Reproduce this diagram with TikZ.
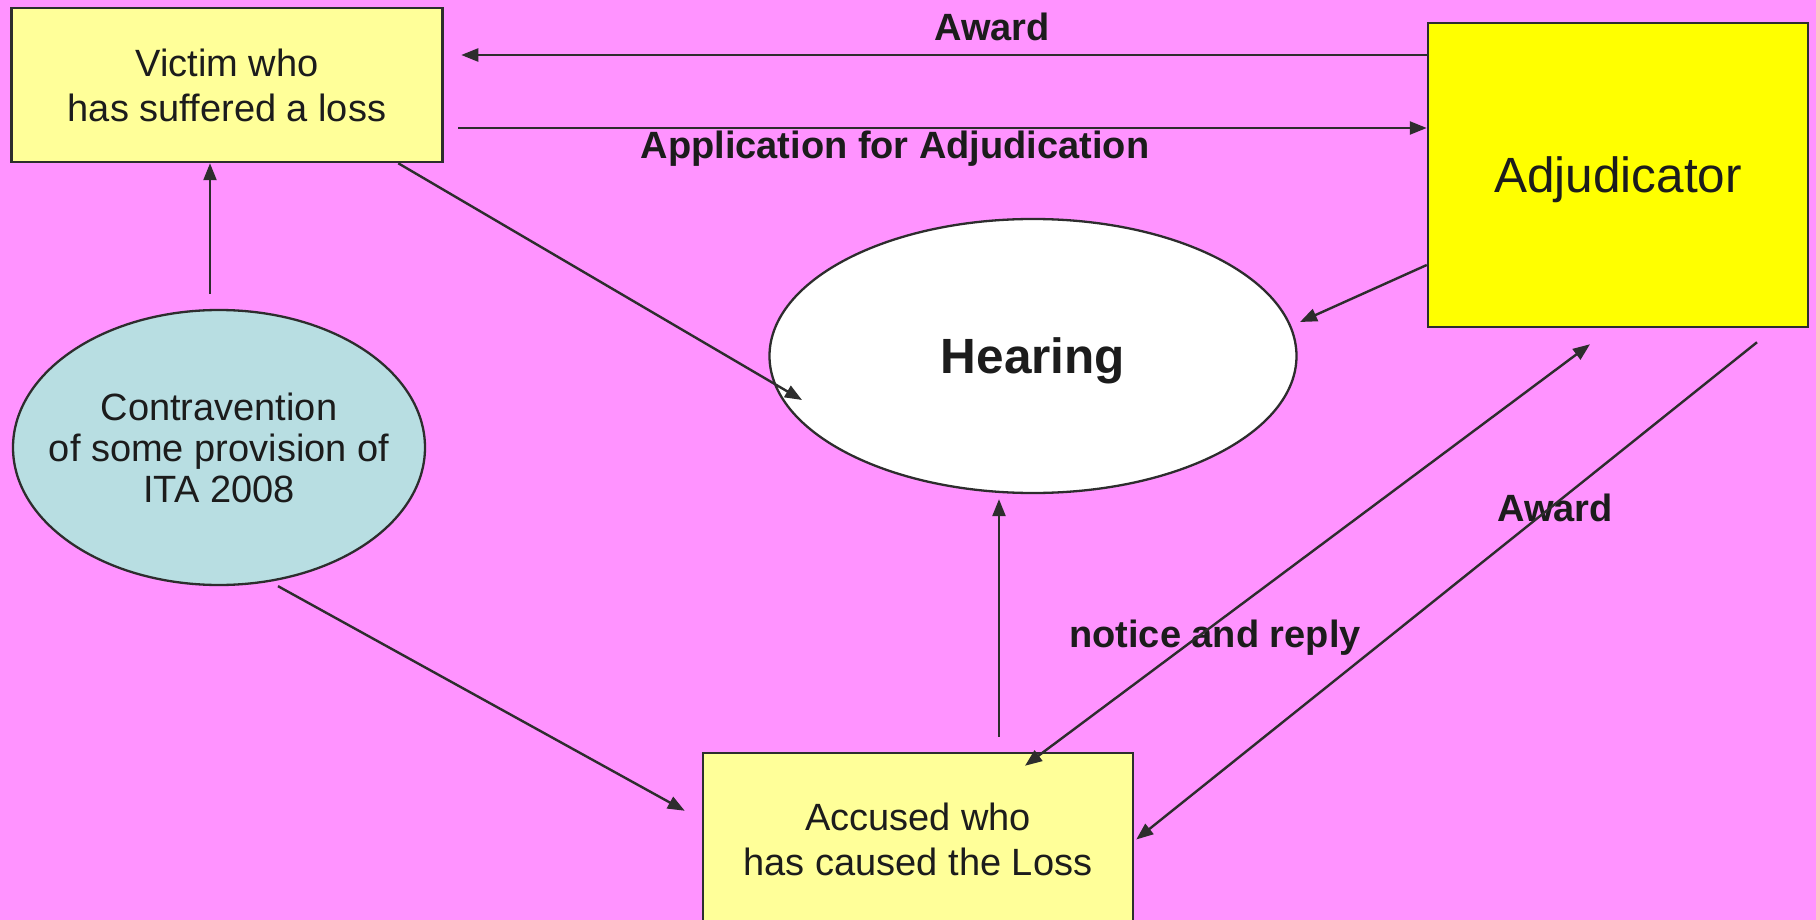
\documentclass[tikz,border=0pt]{standalone}
\usepackage{fontspec}
\setmainfont{Liberation Sans}
\usetikzlibrary{arrows.meta,shapes.geometric,calc}
\definecolor{bgpink}{RGB}{255,147,255}
\definecolor{paleyellow}{RGB}{255,255,153}
\definecolor{adjyellow}{RGB}{255,255,0}
\definecolor{contrablue}{RGB}{184,222,226}
\definecolor{edgegray}{RGB}{45,45,45}
\definecolor{inkcol}{RGB}{28,28,28}
\begin{document}
\begin{tikzpicture}[x=1pt,y=-1pt,
  boxnode/.style={draw=edgegray, line width=2.5pt, inner sep=0pt, align=center, text=inkcol},
  ellnode/.style={ellipse, draw=edgegray, line width=2.3pt, inner sep=0pt, align=center, text=inkcol},
  bodyfont/.style={font=\fontsize{38}{45}\selectfont},
  lbl/.style={font=\bfseries\fontsize{38}{45}\selectfont, text=inkcol, inner sep=0pt, text height=27pt, text depth=0pt},
  arr/.style={draw=edgegray, line width=2.4pt, -{Triangle[length=17pt,width=13pt]}},
  dblarr/.style={draw=edgegray, line width=2.4pt, {Triangle[length=17pt,width=13pt]}-{Triangle[length=17pt,width=13pt]}}
]
\fill[bgpink] (0,0) rectangle (1816,920);
\useasboundingbox (0,0) rectangle (1816,920);
\clip (0,0) rectangle (1816,920);

% nodes
\node[boxnode, bodyfont, fill=paleyellow, minimum width=431pt, minimum height=154pt] (victim) at (227,85) {Victim who\\has suffered a loss};
\node[boxnode, fill=adjyellow, minimum width=380pt, minimum height=304pt, text height=35.5pt, text depth=0pt, font=\fontsize{49.5}{59}\selectfont] (adj) at (1618,175) {Adjudicator};
\node[ellnode, fill=white, minimum width=527pt, minimum height=274pt, text height=35.5pt, text depth=0pt, font=\bfseries\fontsize{49.5}{59}\selectfont] (hearing) at (1033,356) {Hearing};
\node[ellnode, fill=contrablue, minimum width=412pt, minimum height=275pt, inner xsep=-30pt, font=\fontsize{38}{41}\selectfont] (contra) at (219,447.5) {Contravention\\of some provision of\\ITA 2008};
\node[boxnode, bodyfont, fill=paleyellow, minimum width=430pt, minimum height=173pt] (accused) at (918,839.5) {Accused who\\has caused the Loss};

% labels
\node[lbl] (lawardtop) at (992,27) {Award};
\node[lbl] (lapp) at (895,145) {Application for Adjudication};
\node[lbl] (lnotice) at (1215,634) {notice and reply};
\node[lbl] (lawardtwo) at (1555,508) {Award};

% connectors
\draw[arr] ([yshift=120pt]adj.west) -- ([shift={(17.5pt,30pt)}]victim.east);
\draw[arr] ([shift={(14.5pt,-43pt)}]victim.east) -- ([yshift=47pt]adj.west);
\draw[arr] ([xshift=-45.5pt]victim.south east) -- ([shift={(-231pt,-44pt)}]hearing.center);
\draw[arr] ([shift={(-9pt,15pt)}]contra.north) -- ([xshift=-17pt]victim.south);
\draw[arr] ([yshift=-90pt]adj.west) -- ([shift={(267pt,34pt)}]hearing.center);
\draw[arr] ([xshift=59pt]contra.south) -- ([shift={(-17pt,-59pt)}]accused.north west);
\draw[arr] ([shift={(81pt,15pt)}]accused.north) -- ([shift={(-34pt,-5pt)}]hearing.south);
\draw[dblarr] ([shift={(107pt,-14pt)}]accused.north) -- ([shift={(-28pt,-16pt)}]adj.south);
\draw[arr] ([shift={(139pt,-14pt)}]adj.south) -- ([xshift=2pt]accused.east);
\end{tikzpicture}
\end{document}
